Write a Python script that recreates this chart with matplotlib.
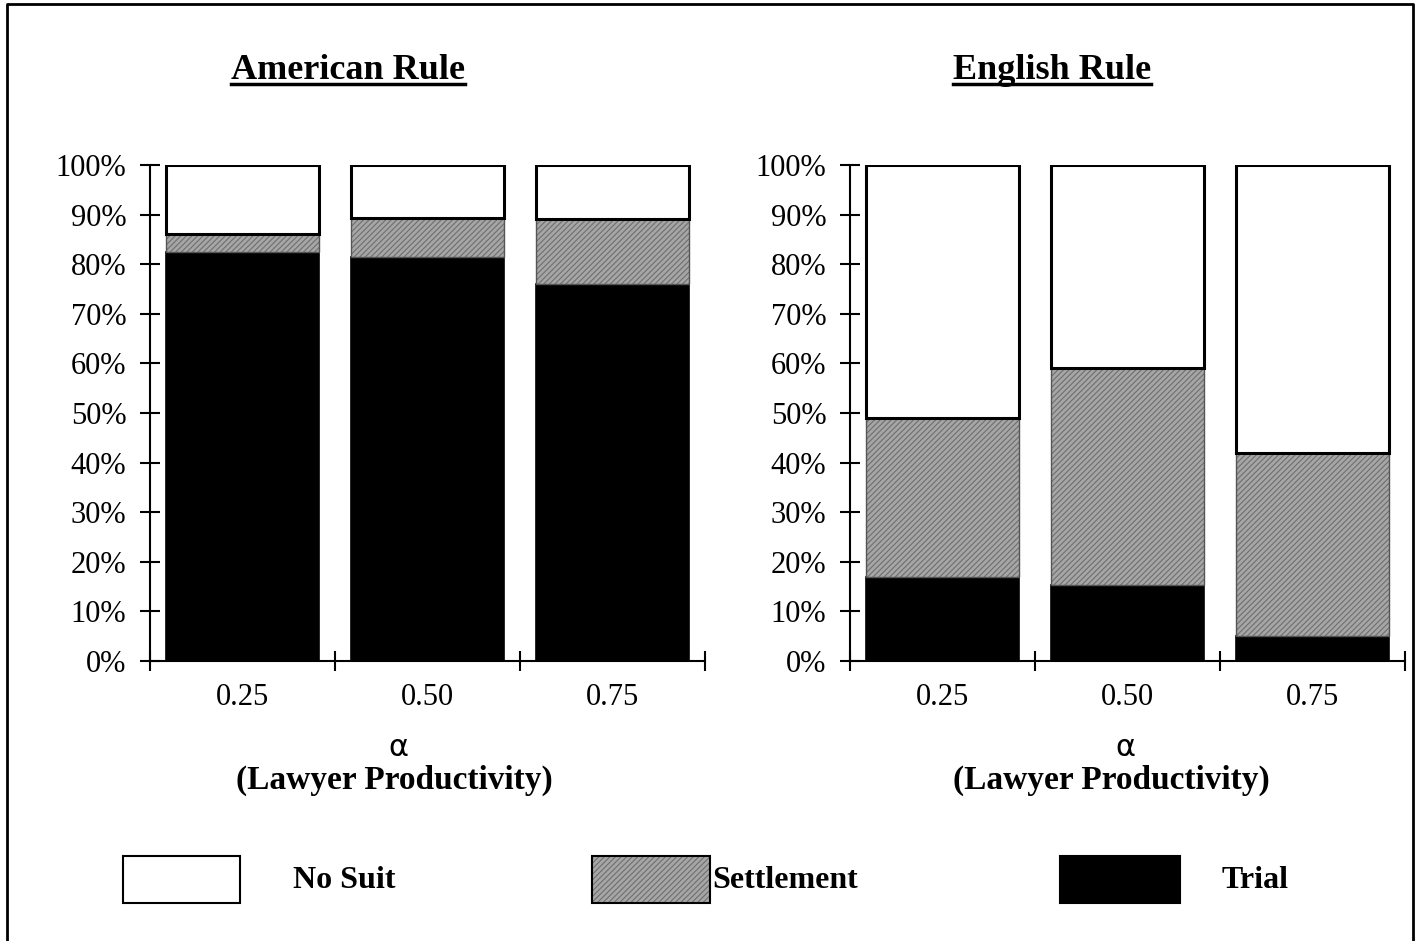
import matplotlib
matplotlib.use('Agg')
import matplotlib.pyplot as plt
from matplotlib.patches import Rectangle
from matplotlib.lines import Line2D
import numpy as np

plt.rcParams['font.family'] = ['Liberation Serif', 'DejaVu Serif']
plt.rcParams['hatch.linewidth'] = 0.8

# data (fractions of cases)
alphas = ['0.25', '0.50', '0.75']
american_trial = [0.825, 0.815, 0.76]
american_settle = [0.036, 0.078, 0.131]
english_trial = [0.169, 0.153, 0.05]
english_settle = [0.321, 0.438, 0.369]
panel_titles = ['American Rule', 'English Rule']
legend_labels = ['No Suit', 'Settlement', 'Trial']

SETTLE_FACE = '#a6a6a6'
SETTLE_HATCH = '#6e6e6e'
W, H = 1424, 941

fig = plt.figure(figsize=(W / 100, H / 100), dpi=100)


def px(x, y):
    return x / W, 1 - y / H


def draw_panel(ax, trial, settle):
    x = np.arange(len(alphas))
    width = 0.83
    trial = np.array(trial)
    settle = np.array(settle)
    nosuit = 1 - trial - settle
    ax.bar(x, trial, width, color='black', edgecolor='black', linewidth=1.2)
    ax.bar(x, settle, width, bottom=trial, color=SETTLE_FACE,
           edgecolor=SETTLE_HATCH, hatch='//////', linewidth=0)
    ax.bar(x, settle, width, bottom=trial, color='none',
           edgecolor='#555555', linewidth=1.0)
    ax.bar(x, nosuit, width, bottom=trial + settle, color='white',
           edgecolor='black', linewidth=2.2)

    ax.set_xlim(-0.5, len(alphas) - 0.5)
    ax.set_ylim(0, 1)
    ax.tick_params(axis='both', which='major', direction='inout', length=14,
                   width=1.5)
    ax.tick_params(axis='y', which='major', pad=10, labelsize=22)
    ax.tick_params(axis='x', which='minor', length=0, pad=16, labelsize=22)
    ax.set_yticks(np.arange(0, 1.01, 0.1))
    ax.set_yticklabels(['%d%%' % v for v in range(0, 101, 10)], fontsize=22)
    ax.set_xticks(np.arange(-0.5, len(alphas), 1.0))
    ax.set_xticklabels([])
    ax.set_xticks(x, minor=True)
    ax.set_xticklabels(alphas, minor=True, fontsize=22)
    for s in ['top', 'right']:
        ax.spines[s].set_visible(False)
    ax.spines['left'].set_linewidth(1.5)
    ax.spines['bottom'].set_linewidth(1.5)


ax1 = fig.add_axes([150 / W, 1 - 661 / H, 555 / W, 496 / H])
ax2 = fig.add_axes([850 / W, 1 - 661 / H, 555 / W, 496 / H])
draw_panel(ax1, american_trial, american_settle)
draw_panel(ax2, english_trial, english_settle)

# titles (bold, underlined)
titles = []
for t, cx in zip(panel_titles, [348, 1052]):
    titles.append(fig.text(*px(cx, 79), t, fontsize=26, fontweight='bold',
                           ha='center', va='baseline'))

# axis labels
for cx_a, cx_l in [(398, 394), (1125, 1111)]:
    fig.text(*px(cx_a, 747), 'α', fontsize=22, ha='center', va='center',
             family=['DejaVu Sans'])
    fig.text(*px(cx_l, 780), '(Lawyer Productivity)', fontsize=24,
             fontweight='bold', ha='center', va='center')

# legend
legend_boxes = [(123, 240), (592, 710), (1060, 1180)]
legend_text_x = [293, 712, 1222]
faces = ['white', SETTLE_FACE, 'black']
for i, lab in enumerate(legend_labels):
    x0, x1 = legend_boxes[i]
    bx, by = px(x0, 903)
    bw = (x1 - x0) / W
    bh = 47 / H
    if faces[i] == SETTLE_FACE:
        fig.add_artist(Rectangle((bx, by), bw, bh, transform=fig.transFigure,
                                 facecolor=SETTLE_FACE, edgecolor=SETTLE_HATCH,
                                 hatch='//////', linewidth=0))
        fig.add_artist(Rectangle((bx, by), bw, bh, transform=fig.transFigure,
                                 facecolor='none', edgecolor='black', linewidth=1.5))
    else:
        fig.add_artist(Rectangle((bx, by), bw, bh, transform=fig.transFigure,
                                 facecolor=faces[i], edgecolor='black', linewidth=1.5))
    fig.text(*px(legend_text_x[i], 880), lab, fontsize=23, fontweight='bold',
             ha='left', va='center')

# outer frame
fig.add_artist(Line2D([7 / W, 7 / W, 1413 / W, 1413 / W],
                      [0, 1 - 4 / H, 1 - 4 / H, 0],
                      transform=fig.transFigure, color='black', linewidth=2))

# underline titles, just under the baseline
fig.canvas.draw()
renderer = fig.canvas.get_renderer()
for t in titles:
    bb = t.get_window_extent(renderer)
    y = 1 - 84 / H
    fig.add_artist(Line2D([bb.x0 / W, bb.x1 / W], [y, y],
                          transform=fig.transFigure, color='black', linewidth=2.5))

fig.savefig('out.png', dpi=100)
